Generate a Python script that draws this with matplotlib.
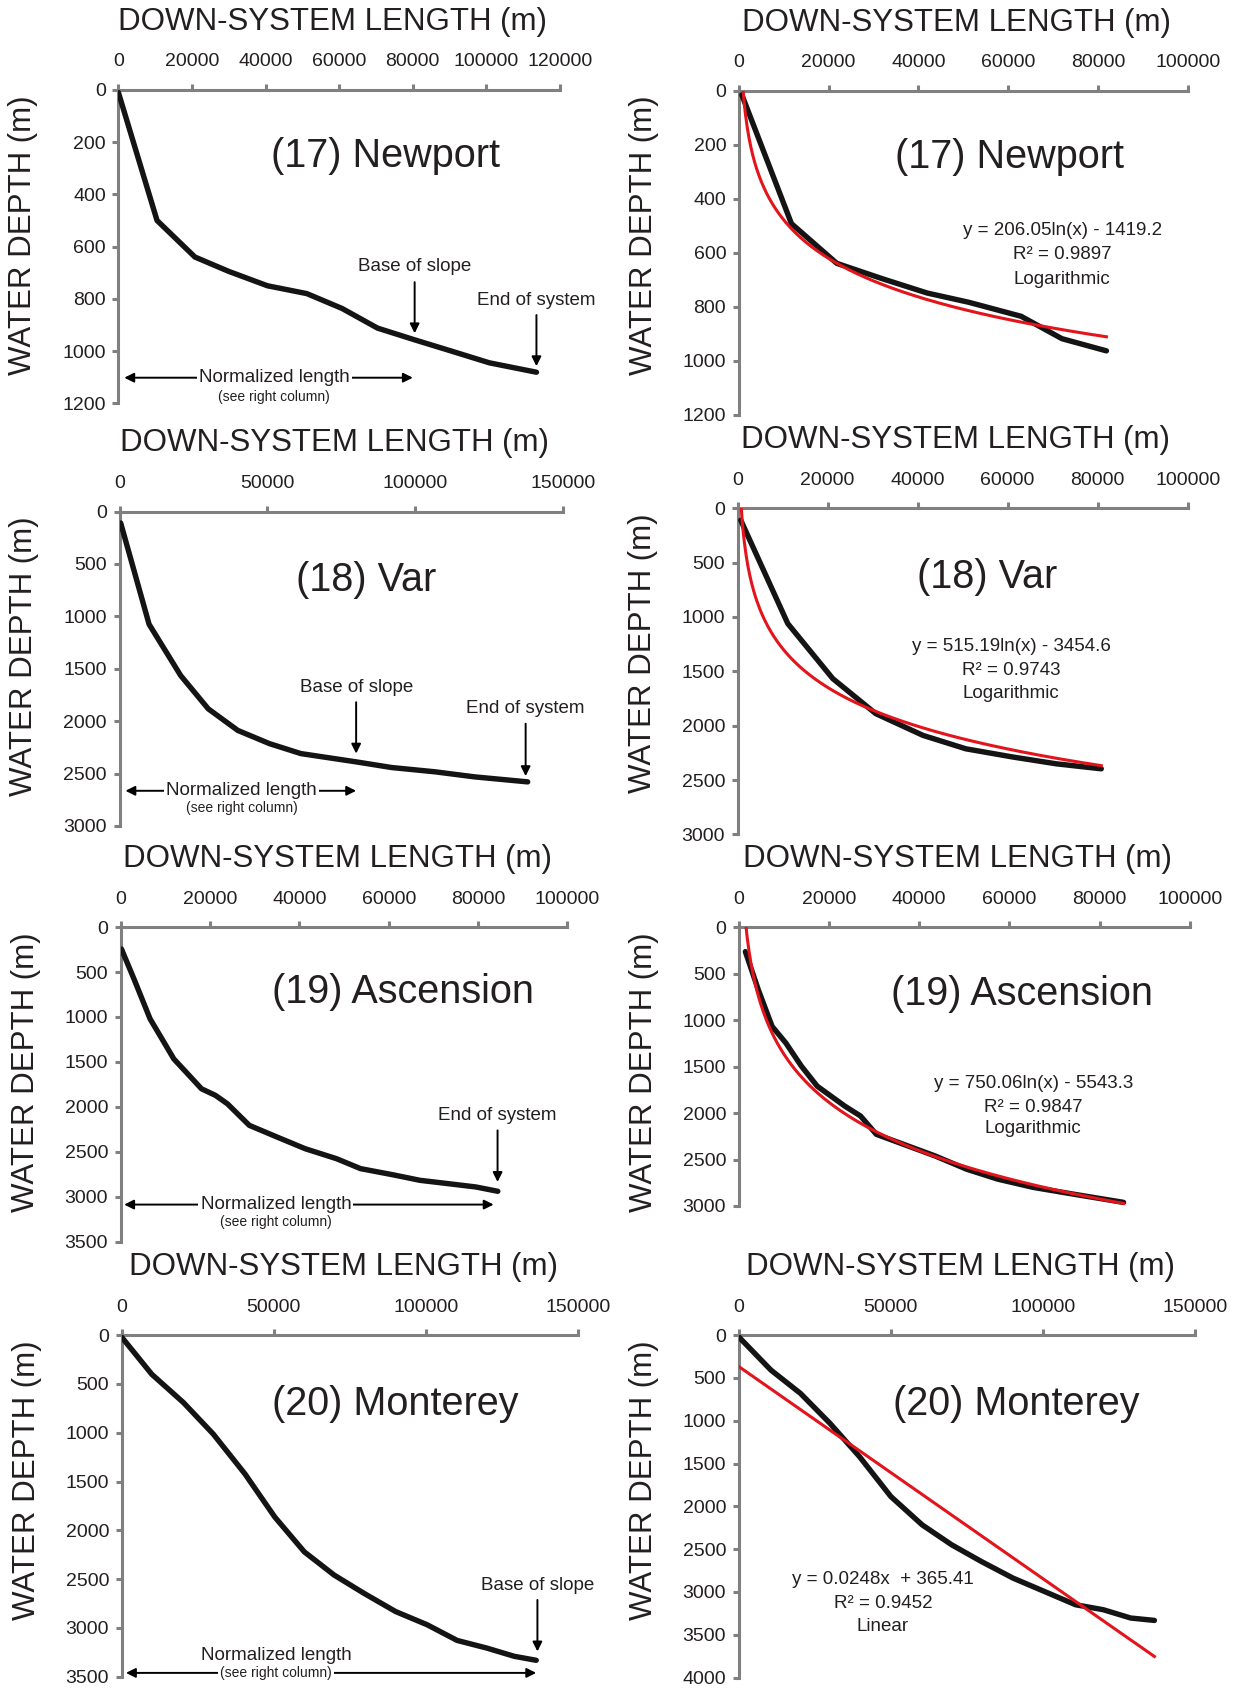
import numpy as np
import matplotlib
matplotlib.use("Agg")
import matplotlib.pyplot as plt
from matplotlib.ticker import StrMethodFormatter

plt.rcParams["font.family"] = ["Liberation Sans", "DejaVu Sans"]

W, H = 1235, 1688
INK = "#231f20"
AXIS_GREY = "#808080"
FIT_RED = "#e3141b"

# ---- depth profiles: down-system length (m) vs water depth (m) ----
# (17) Newport, full system and normalized length
newport_x = [0, 10500, 20800, 30000, 40500, 51200, 60800, 70400, 80500, 90700, 100800, 113600]
newport_y = [10, 500, 640, 695, 750, 780, 837, 912, 957, 1001, 1045, 1081]
newport_norm_x = [700, 11750, 21850, 32000, 42000, 51200, 62900, 72000, 81900]
newport_norm_y = [16, 493, 640, 697, 750, 784, 836, 919, 964]

# (18) Var
var_x = [400, 10000, 20700, 30000, 40000, 50700, 61300, 80000, 92000, 106700, 120000, 138000]
var_y = [110, 1076, 1566, 1883, 2089, 2215, 2310, 2389, 2443, 2484, 2532, 2580]
var_norm_x = [700, 11150, 21150, 30700, 41200, 50700, 61200, 70800, 80800]
var_norm_y = [110, 1061, 1567, 1889, 2089, 2212, 2288, 2350, 2396]

# (19) Ascension
asc_x = [190, 3000, 6600, 9250, 11900, 15000, 18100, 21250, 23900, 28800, 35000, 41300,
         48300, 53700, 60800, 67000, 73300, 79500, 84400]
asc_y = [244, 578, 1022, 1244, 1467, 1633, 1800, 1874, 1967, 2207, 2337, 2467,
         2578, 2689, 2756, 2819, 2856, 2893, 2941]
asc_norm_x = [1480, 4350, 7400, 10440, 13900, 17400, 23500, 27000, 30500, 36500,
              43500, 50500, 57400, 65300, 74000, 85300]
asc_norm_y = [264, 675, 1068, 1246, 1496, 1711, 1925, 2032, 2229, 2336,
              2461, 2604, 2711, 2800, 2871, 2961]

# (20) Monterey
mon_x = [0, 9900, 20300, 30100, 40500, 50300, 60000, 69800, 79600, 90000,
         100400, 110200, 119900, 129000, 136200]
mon_y = [20, 401, 691, 1014, 1422, 1864, 2221, 2459, 2646, 2833,
         2969, 3129, 3207, 3292, 3333]
mon_norm_x = [0, 10600, 20300, 30000, 39700, 50000, 60300, 70000, 79700, 90100,
              100400, 110700, 119800, 128800, 136600]
mon_norm_y = [19, 408, 680, 1030, 1419, 1885, 2216, 2449, 2643, 2837,
              2993, 3149, 3207, 3304, 3332]

# trend lines: (slope, intercept, R^2)
newport_fit = (206.05, -1419.2, 0.9897)
var_fit = (515.19, -3454.6, 0.9743)
asc_fit = (750.06, -5543.3, 0.9847)
mon_fit = (0.0248, 365.41, 0.9452)

fig = plt.figure(figsize=(W / 100, H / 100), dpi=100)


def add_axes_px(x0, y0, x1, y1):
    return fig.add_axes([x0 / W, 1 - y1 / H, (x1 - x0) / W, (y1 - y0) / H])


def setup(ax, xmax, xstep, ymax, ystep):
    ax.set_xlim(0, xmax)
    ax.set_ylim(ymax, 0)
    ax.xaxis.tick_top()
    ax.set_xticks(np.arange(0, xmax + 1, xstep))
    ax.set_yticks(np.arange(0, ymax + 1, ystep))
    ax.xaxis.set_major_formatter(StrMethodFormatter("{x:.0f}"))
    ax.yaxis.set_major_formatter(StrMethodFormatter("{x:.0f}"))
    for side in ("right", "bottom"):
        ax.spines[side].set_visible(False)
    for side in ("top", "left"):
        ax.spines[side].set_color(AXIS_GREY)
        ax.spines[side].set_linewidth(2.2)
        ax.spines[side].set_capstyle("projecting")
    ax.tick_params(axis="both", direction="out", length=4.5, width=2.2,
                   color=AXIS_GREY, labelcolor=INK, labelsize=14)
    ax.tick_params(axis="x", pad=9.5)
    ax.tick_params(axis="y", pad=4.5)
    ax.patch.set_visible(False)
    ax.annotate("DOWN-SYSTEM LENGTH (m)", xy=(0.485, 1), xycoords="axes fraction",
                xytext=(0, 68), textcoords="offset pixels", ha="center", va="center",
                fontsize=22.5, color=INK, annotation_clip=False)
    ax.annotate("WATER DEPTH (m)", xy=(0, 1), xycoords="axes fraction",
                xytext=(-95, -145), textcoords="offset pixels", ha="center", va="center",
                rotation=90, fontsize=22.5, color=INK, annotation_clip=False)


def profile(ax, x, y):
    ax.plot(x, y, color="#141414", lw=3.9, solid_capstyle="round",
            solid_joinstyle="round", zorder=3)


def log_fit(ax, x, fit):
    a, b, _ = fit
    xs = np.linspace(min(x), max(x), 400)
    ax.plot(xs, a * np.log(xs) + b, color=FIT_RED, lw=2.2, zorder=4)


def lin_fit(ax, x, fit):
    a, b, _ = fit
    xs = np.linspace(min(x), max(x), 50)
    ax.plot(xs, a * xs + b, color=FIT_RED, lw=2.2, zorder=4)


def fit_label(ax, x, ys, lines):
    for yy, s in zip(ys, lines):
        ax.text(x, yy, s, ha="center", va="center", fontsize=13.5, color=INK)


def down_arrow(ax, x, y_text, y_tail, y_head, label):
    ax.text(x, y_text, label, ha="center", va="center", fontsize=13.5, color=INK)
    ax.annotate("", xy=(x, y_head), xytext=(x, y_tail),
                arrowprops=dict(arrowstyle="-|>", color="black", lw=1.4,
                                mutation_scale=14, shrinkA=0, shrinkB=0))


def span_arrow(ax, x0, x1, y):
    ax.annotate("", xy=(x1, y), xytext=(x0, y),
                arrowprops=dict(arrowstyle="<|-|>", color="black", lw=1.4,
                                mutation_scale=14, shrinkA=0, shrinkB=0))


def name(ax, x, y, s):
    ax.text(x, y, s, ha="center", va="center", fontsize=28.5, color=INK)


white_box = dict(facecolor="white", edgecolor="none", pad=1.5)

# ---------------- row 1: Newport ----------------
ax = add_axes_px(118.4, 89.9, 560, 403.3)
setup(ax, 120000, 20000, 1200, 200)
profile(ax, newport_x, newport_y)
name(ax, 72540, 254, "(17) Newport")
down_arrow(ax, 80500, 678, 736, 932, "Base of slope")
down_arrow(ax, 113600, 805, 862, 1058, "End of system")
span_arrow(ax, 1600, 80000, 1102)
ax.text(42340, 1102, "Normalized length", ha="center", va="center", fontsize=13.5,
        color=INK, bbox=white_box, zorder=5)
ax.text(42340, 1174, "(see right column)", ha="center", va="center", fontsize=10, color=INK)

ax = add_axes_px(738.7, 90.5, 1187.7, 414.6)
setup(ax, 100000, 20000, 1200, 200)
profile(ax, newport_norm_x, newport_norm_y)
log_fit(ax, newport_norm_x, newport_fit)
name(ax, 60300, 248, "(17) Newport")
fit_label(ax, 72060, [517, 609, 699],
          ["y = 206.05ln(x) - 1419.2", "R² = 0.9897", "Logarithmic"])

# ---------------- row 2: Var ----------------
ax = add_axes_px(119.5, 511.5, 563.2, 825.9)
setup(ax, 150000, 50000, 3000, 500)
profile(ax, var_x, var_y)
name(ax, 83330, 649, "(18) Var")
down_arrow(ax, 80000, 1677, 1820, 2310, "Base of slope")
down_arrow(ax, 137300, 1883, 2025, 2525, "End of system")
span_arrow(ax, 2000, 80000, 2665)
ax.text(41320, 2665, "Normalized length", ha="center", va="center", fontsize=13.5,
        color=INK, bbox=white_box, zorder=5)
ax.text(41320, 2832, "(see right column)", ha="center", va="center", fontsize=10, color=INK)

ax = add_axes_px(737.6, 508.2, 1187.7, 834.5)
setup(ax, 100000, 20000, 3000, 500)
profile(ax, var_norm_x, var_norm_y)
log_fit(ax, var_norm_x, var_fit)
name(ax, 55530, 632, "(18) Var")
fit_label(ax, 60760, [1276, 1491, 1700],
          ["y = 515.19ln(x) - 3454.6", "R² = 0.9743", "Logarithmic"])

# ---------------- row 3: Ascension ----------------
ax = add_axes_px(120.6, 927.1, 567.5, 1241.5)
setup(ax, 100000, 20000, 3500, 500)
profile(ax, asc_x, asc_y)
name(ax, 63280, 726, "(19) Ascension")
down_arrow(ax, 84350, 2096, 2263, 2837, "End of system")
span_arrow(ax, 800, 83470, 3089)
ax.text(34750, 3089, "Normalized length", ha="center", va="center", fontsize=13.5,
        color=INK, bbox=white_box, zorder=5)
ax.text(34750, 3281, "(see right column)", ha="center", va="center", fontsize=10, color=INK)

ax = add_axes_px(738.7, 927.1, 1189.9, 1206)
setup(ax, 100000, 20000, 3000, 500)
profile(ax, asc_norm_x, asc_norm_y)
log_fit(ax, asc_norm_x, asc_fit)
name(ax, 62840, 718, "(19) Ascension")
fit_label(ax, 65270, [1685, 1936, 2161],
          ["y = 750.06ln(x) - 5543.3", "R² = 0.9847", "Logarithmic"])

# ---------------- row 4: Monterey ----------------
ax = add_axes_px(121.7, 1335.2, 578.2, 1676.6)
setup(ax, 150000, 50000, 3500, 500)
profile(ax, mon_x, mon_y)
name(ax, 89970, 707, "(20) Monterey")
down_arrow(ax, 136600, 2562, 2714, 3242, "Base of slope")
span_arrow(ax, 1400, 136200, 3462)
ax.text(50780, 3286, "Normalized length", ha="center", va="center", fontsize=13.5, color=INK)
ax.text(50780, 3462, "(see right column)", ha="center", va="center", fontsize=10,
        color=INK, bbox=white_box, zorder=5)

ax = add_axes_px(738.7, 1335.2, 1195.2, 1677.6)
setup(ax, 150000, 50000, 4000, 500)
profile(ax, mon_norm_x, mon_norm_y)
lin_fit(ax, mon_norm_x, mon_fit)
name(ax, 91360, 805, "(20) Monterey")
fit_label(ax, 47400, [2857, 3137, 3402],
          ["y = 0.0248x  + 365.41", "R² = 0.9452", "Linear"])

fig.savefig("out.png", dpi=100, facecolor="white")
